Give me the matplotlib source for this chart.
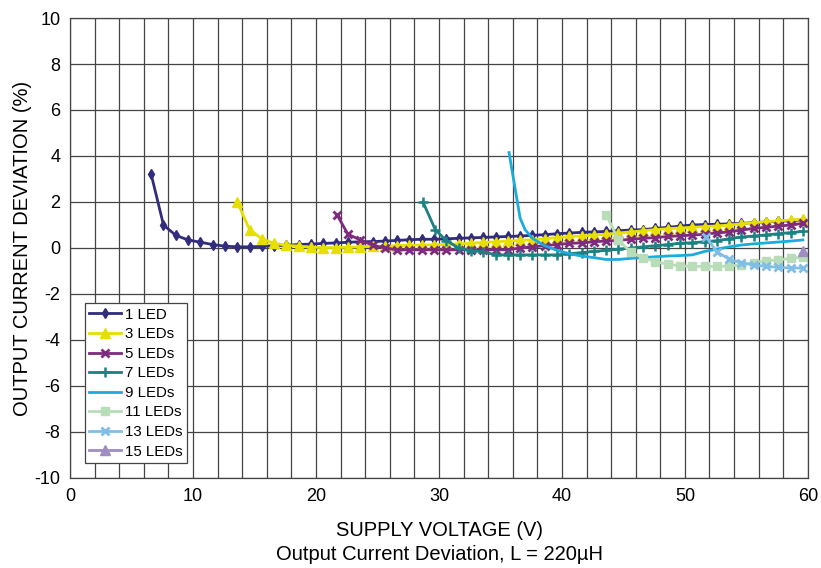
import matplotlib
matplotlib.use("Agg")
import matplotlib.pyplot as plt

plt.rcParams['font.family'] = ['Liberation Sans', 'DejaVu Sans']
plt.rcParams['axes.unicode_minus'] = False

# Data (supply voltage V, deviation %)
x_1 = [6.6, 7.6, 8.6, 9.6, 10.6, 11.6, 12.6, 13.6, 14.6, 15.6, 16.6, 17.6, 18.6, 19.6,
       20.6, 21.6, 22.6, 23.6, 24.6, 25.6, 26.6, 27.6, 28.6, 29.6, 30.6, 31.6, 32.6,
       33.6, 34.6, 35.6, 36.6, 37.6, 38.6, 39.6, 40.6, 41.6, 42.6, 43.6, 44.6, 45.6,
       46.6, 47.6, 48.6, 49.6, 50.6, 51.6, 52.6, 53.6, 54.6, 55.6, 56.6, 57.6, 58.6, 59.6]
y_1 = [3.2, 1.0, 0.55, 0.35, 0.25, 0.15, 0.08, 0.05, 0.05, 0.07, 0.1, 0.12, 0.15, 0.17,
       0.2, 0.22, 0.25, 0.27, 0.28, 0.3, 0.33, 0.36, 0.38, 0.38, 0.4, 0.42, 0.44,
       0.46, 0.48, 0.5, 0.52, 0.55, 0.58, 0.62, 0.65, 0.68, 0.7, 0.72, 0.75, 0.78,
       0.8, 0.85, 0.9, 0.95, 1.0, 1.02, 1.03, 1.05, 1.07, 1.1, 1.13, 1.16, 1.19, 1.22]

x_3 = [13.6, 14.6, 15.6, 16.6, 17.6, 18.6, 19.6, 20.6, 21.6, 22.6, 23.6, 24.6, 25.6,
       26.6, 27.6, 28.6, 29.6, 30.6, 31.6, 32.6, 33.6, 34.6, 35.6, 36.6, 37.6, 38.6,
       39.6, 40.6, 41.6, 42.6, 43.6, 44.6, 45.6, 46.6, 47.6, 48.6, 49.6, 50.6, 51.6,
       52.6, 53.6, 54.6, 55.6, 56.6, 57.6, 58.6, 59.6]
y_3 = [2.0, 0.8, 0.4, 0.2, 0.12, 0.08, 0.03, 0.02, 0.02, 0.03, 0.05, 0.07, 0.08,
       0.1, 0.12, 0.13, 0.14, 0.15, 0.18, 0.21, 0.24, 0.27, 0.3, 0.33, 0.36, 0.4,
       0.45, 0.5, 0.52, 0.56, 0.6, 0.65, 0.7, 0.75, 0.8, 0.84, 0.87, 0.9, 0.93,
       0.96, 1.0, 1.05, 1.1, 1.14, 1.18, 1.22, 1.25]

x_5 = [21.7, 22.6, 23.6, 24.6, 25.6, 26.6, 27.6, 28.6, 29.6, 30.6, 31.6, 32.6, 33.6,
       34.6, 35.6, 36.6, 37.6, 38.6, 39.6, 40.6, 41.6, 42.6, 43.6, 44.6, 45.6, 46.6,
       47.6, 48.6, 49.6, 50.6, 51.6, 52.6, 53.6, 54.6, 55.6, 56.6, 57.6, 58.6, 59.6]
y_5 = [1.45, 0.6, 0.35, 0.12, 0.0, -0.08, -0.08, -0.08, -0.08, -0.08, -0.08, -0.08, -0.08,
       -0.08, -0.08, 0.0, 0.05, 0.1, 0.15, 0.2, 0.22, 0.27, 0.3, 0.33, 0.38, 0.42,
       0.45, 0.5, 0.53, 0.56, 0.6, 0.65, 0.7, 0.78, 0.85, 0.9, 0.95, 1.0, 1.07]

x_7 = [28.7, 29.7, 30.6, 31.6, 32.6, 33.6, 34.6, 35.6, 36.6, 37.6, 38.6, 39.6, 40.6,
       41.6, 42.6, 43.6, 44.6, 45.6, 46.6, 47.6, 48.6, 49.6, 50.6, 51.6, 52.6, 53.6,
       54.6, 55.6, 56.6, 57.6, 58.6, 59.6]
y_7 = [2.0, 0.8, 0.32, 0.0, -0.12, -0.16, -0.3, -0.3, -0.3, -0.3, -0.3, -0.3, -0.25,
       -0.2, -0.15, -0.1, -0.05, 0.0, 0.05, 0.1, 0.15, 0.2, 0.23, 0.27, 0.32, 0.4,
       0.48, 0.52, 0.57, 0.62, 0.67, 0.72]

x_9 = [35.7, 36.6, 37.0, 37.6, 38.6, 39.6, 40.6, 41.6, 42.6, 43.6, 44.6, 45.6, 46.6,
       47.6, 48.6, 49.6, 50.6, 51.6, 52.6, 53.6, 54.6, 55.6, 56.6, 57.6, 58.6, 59.6]
y_9 = [4.15, 1.3, 0.8, 0.42, 0.1, -0.1, -0.25, -0.35, -0.42, -0.5, -0.5, -0.45, -0.42,
       -0.38, -0.35, -0.33, -0.3, -0.15, -0.05, 0.05, 0.13, 0.18, 0.22, 0.26, 0.3, 0.35]

x_11 = [43.6, 44.6, 45.6, 46.6, 47.6, 48.6, 49.6, 50.6, 51.6, 52.6, 53.6, 54.6, 55.6,
        56.6, 57.6, 58.6, 59.6]
y_11 = [1.45, 0.35, -0.19, -0.42, -0.6, -0.7, -0.78, -0.8, -0.8, -0.8, -0.78, -0.74, -0.64,
        -0.55, -0.52, -0.45, -0.4]

x_13 = [51.7, 52.6, 53.6, 54.6, 55.6, 56.6, 57.6, 58.6, 59.6]
y_13 = [0.49, -0.16, -0.49, -0.64, -0.74, -0.8, -0.84, -0.87, -0.87]

x_15 = [59.6]
y_15 = [-0.15]

fig = plt.figure(figsize=(8.21, 5.68), dpi=100)
ax = fig.add_axes([0.0853, 0.1585, 0.8987, 0.8098])

ax.plot(x_1, y_1, color="#312C7E", marker="d", ms=5.5, lw=2, label="1 LED")
ax.plot(x_3, y_3, color="#E6DF00", marker="^", ms=6.5, lw=2, label="3 LEDs")
ax.plot(x_5, y_5, color="#7E2A7E", marker="x", ms=5.5, mew=2, lw=2, label="5 LEDs")
ax.plot(x_7, y_7, color="#1B8182", marker="+", ms=6.5, mew=1.8, lw=2, label="7 LEDs")
ax.plot(x_9, y_9, color="#1BACDC", lw=2, label="9 LEDs")
ax.plot(x_11, y_11, color="#B8DDB8", marker="s", ms=5.5, lw=2, label="11 LEDs")
ax.plot(x_13, y_13, color="#80BEE6", marker="x", ms=5.5, mew=2, lw=2, label="13 LEDs")
ax.plot(x_15, y_15, color="#9F8DC4", marker="^", ms=7, lw=2, label="15 LEDs")

ax.set_xlim(0, 60)
ax.set_ylim(-10, 10)
ax.set_xticks(range(0, 61, 10))
ax.set_xticks(range(0, 61, 2), minor=True)
ax.set_yticks(range(-10, 11, 2))
ax.grid(True, which="both", color="#444444", lw=0.9)
ax.set_axisbelow(True)
ax.tick_params(which="both", length=0, labelsize=13, pad=7)
for s in ax.spines.values():
    s.set_color("#444444")
    s.set_linewidth(0.9)

ax.set_ylabel("OUTPUT CURRENT DEVIATION (%)", fontsize=14.5, labelpad=2)
fig.text(0.535, 0.066, "SUPPLY VOLTAGE (V)", ha="center", va="center", fontsize=14.5)
fig.text(0.535, 0.023, "Output Current Deviation, L = 220µH", ha="center", va="center", fontsize=14.5)

leg = ax.legend(loc="upper left", bbox_to_anchor=(0.02, 0.38), fontsize=10.8,
                frameon=True, fancybox=False, framealpha=1, edgecolor="#444444",
                borderpad=0.3, labelspacing=0.37, handlelength=2.1, handletextpad=0.25,
                borderaxespad=0)
leg.get_frame().set_linewidth(0.9)

fig.savefig("out.png", dpi=100)
